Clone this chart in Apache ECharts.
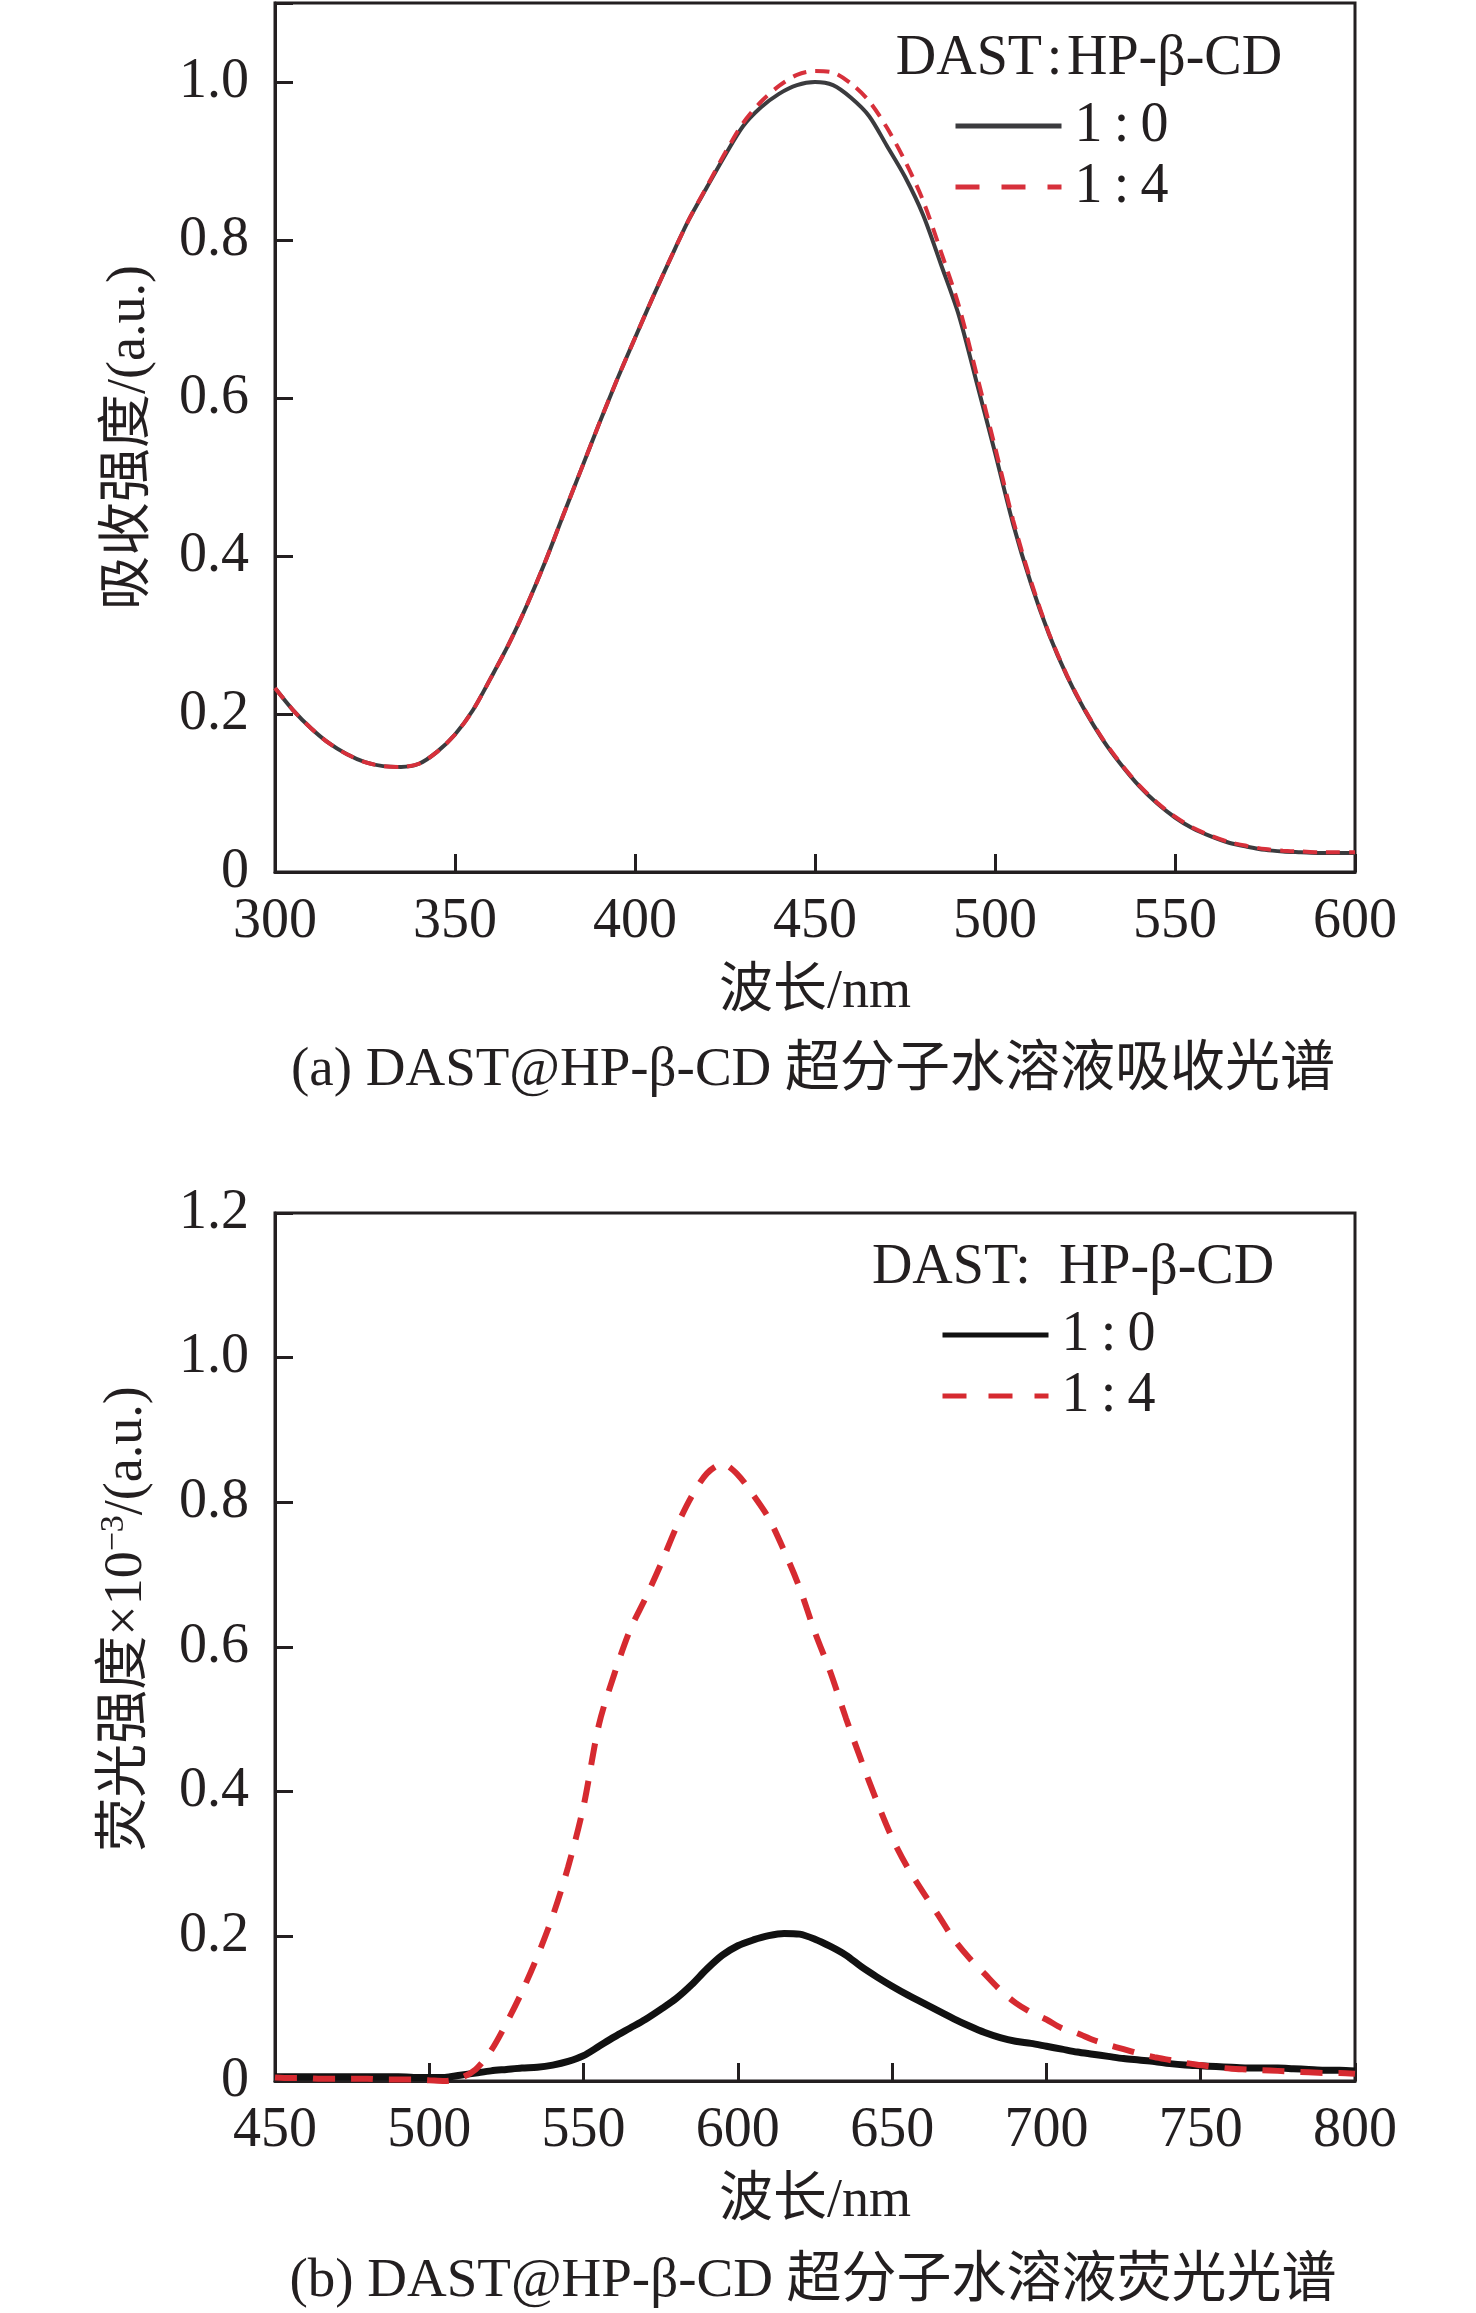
<!DOCTYPE html>
<html><head><meta charset="utf-8">
<script src="https://cdn.jsdelivr.net/npm/echarts@6/dist/echarts.min.js"></script>
<style>
html,body{margin:0;padding:0;background:#fff;}
#c1{position:absolute;left:0;top:0;width:1476px;height:1150px;}
#c2{position:absolute;left:0;top:1150px;width:1476px;height:1163px;}
</style>
</head><body>
<div id="c1"></div><div id="c2"></div>
<script>
// ---------- data: (a) absorption ----------
const absX = [300,305,310,315,320,325,330,335,340,345,350,355,360,365,370,375,380,385,390,395,400,405,410,415,420,425,430,435,440,445,450,455,460,465,470,475,480,485,490,495,500,505,510,515,520,525,530,535,540,545,550,555,560,565,570,575,580,585,590,595,600];
const abs10 = [0.233,0.205,0.182,0.163,0.149,0.139,0.134,0.133,0.137,0.152,0.174,0.205,0.246,0.289,0.338,0.392,0.451,0.509,0.567,0.623,0.676,0.728,0.778,0.826,0.867,0.907,0.944,0.968,0.985,0.996,1.000,0.996,0.980,0.957,0.919,0.880,0.832,0.769,0.704,0.618,0.531,0.441,0.365,0.301,0.248,0.204,0.167,0.136,0.109,0.087,0.069,0.055,0.045,0.037,0.032,0.028,0.026,0.025,0.024,0.024,0.024];
const abs14 = [0.233,0.205,0.182,0.163,0.149,0.139,0.134,0.133,0.137,0.152,0.174,0.205,0.246,0.289,0.338,0.392,0.451,0.509,0.567,0.623,0.676,0.728,0.778,0.826,0.868,0.910,0.948,0.975,0.995,1.009,1.014,1.012,0.998,0.976,0.942,0.900,0.850,0.785,0.716,0.628,0.538,0.446,0.368,0.302,0.249,0.205,0.168,0.137,0.110,0.088,0.070,0.056,0.046,0.038,0.033,0.029,0.027,0.026,0.025,0.025,0.025];
const absYTicks = [0,0.2,0.4,0.6,0.8,1.0];

// ---------- data: (b) fluorescence ----------
const flX = [450,455,460,465,470,475,480,485,490,495,500,505,510,515,520,525,530,535,540,545,550,555,560,565,570,575,580,585,590,595,600,605,610,615,620,625,630,635,640,645,650,655,660,665,670,675,680,685,690,695,700,705,710,715,720,725,730,735,740,745,750,755,760,765,770,775,780,785,790,795,800];
const fl10 = [0.006,0.006,0.006,0.006,0.006,0.006,0.006,0.006,0.006,0.005,0.005,0.005,0.008,0.011,0.014,0.016,0.018,0.019,0.022,0.027,0.035,0.048,0.061,0.073,0.085,0.099,0.114,0.133,0.155,0.174,0.187,0.195,0.201,0.204,0.203,0.196,0.186,0.174,0.158,0.144,0.131,0.119,0.108,0.097,0.086,0.076,0.067,0.060,0.055,0.052,0.048,0.044,0.040,0.037,0.034,0.031,0.029,0.027,0.024,0.022,0.021,0.020,0.019,0.018,0.018,0.018,0.017,0.016,0.015,0.015,0.014];
const fl14 = [0.005,0.004,0.004,0.003,0.003,0.003,0.003,0.002,0.002,0.002,0.001,0.000,0.004,0.016,0.042,0.080,0.123,0.172,0.228,0.296,0.380,0.493,0.563,0.623,0.667,0.714,0.765,0.808,0.840,0.853,0.838,0.810,0.778,0.733,0.682,0.620,0.565,0.502,0.443,0.387,0.336,0.295,0.261,0.229,0.196,0.170,0.148,0.126,0.108,0.095,0.085,0.073,0.066,0.057,0.050,0.044,0.038,0.033,0.029,0.025,0.022,0.019,0.017,0.016,0.015,0.014,0.013,0.012,0.011,0.011,0.010];
const flYTicks = [0,0.2,0.4,0.6,0.8,1.0,1.2];

const names = ['1\u2009:\u20090','1\u2009:\u20094'];
const FONT = '"Liberation Serif","Times New Roman","Noto Sans CJK SC",serif';
const INK = '#231f20';

function zip(xs, ys){ return xs.map((x,i)=>[x,ys[i]]); }
function yFmt(ticks){ return v => { const hit = ticks.find(t=>Math.abs(t-v)<1e-6); return hit===undefined ? '' : (hit===0?'0':hit.toFixed(1)); }; }

function axisBase(){
  return {
    type:'value',
    axisLine:{show:true,onZero:false,lineStyle:{color:INK,width:3}},
    axisTick:{show:true,inside:true,length:18,lineStyle:{color:INK,width:3}},
    axisLabel:{fontFamily:FONT,fontSize:56,color:INK},
    splitLine:{show:false}
  };
}

function build(cfg){
  const x = axisBase();
  Object.assign(x,{min:cfg.xMin,max:cfg.xMax,interval:50,name:'波长/nm',nameLocation:'middle',nameGap:94,
    nameTextStyle:{fontFamily:FONT,fontSize:54,color:INK}});
  x.axisLabel.margin = 22;
  const y = axisBase();
  Object.assign(y,{min:0,max:cfg.yMax,interval:0.2,name:cfg.yName,nameLocation:'middle',nameGap:118,
    nameTextStyle:cfg.yNameStyle});
  y.axisLabel.margin = 26;
  y.axisLabel.formatter = yFmt(cfg.yTicks);
  return {
    animation:false,
    backgroundColor:'#fff',
    grid:{left:275,top:cfg.gridTop,width:1080,height:cfg.gridH,show:true,borderColor:INK,borderWidth:3,backgroundColor:'transparent'},
    xAxis:x, yAxis:y,
    legend:{orient:'vertical',left:cfg.legLeft,top:cfg.legTop,itemWidth:106,itemHeight:14,itemGap:5,
      itemStyle:{opacity:0},
      textStyle:{fontFamily:FONT,fontSize:56,color:INK,lineHeight:56,padding:[0,0,0,8]},
      data:[
        {name:names[0],itemStyle:{opacity:0},lineStyle:{width:5,color:cfg.c0,type:'solid'}},
        {name:names[1],itemStyle:{opacity:0},lineStyle:{width:5,color:cfg.c1,type:[24,22]}}
      ]},
    series:[
      {name:names[0],type:'line',data:zip(cfg.xs,cfg.y0),symbol:'none',showSymbol:false,smooth:0.3,
        lineStyle:{color:cfg.c0,width:cfg.w0},itemStyle:{color:cfg.c0},z:2},
      {name:names[1],type:'line',data:zip(cfg.xs,cfg.y1),symbol:'none',showSymbol:false,smooth:0.3,
        lineStyle:{color:cfg.c1,width:cfg.w1,type:cfg.dash},itemStyle:{color:cfg.c1},z:3}
    ],
    graphic:[
      {type:'text',x:cfg.titleX,y:cfg.titleY,style:{text:cfg.legTitle,fontFamily:FONT,fontSize:56,fill:INK,align:'center',verticalAlign:'middle'}},
      {type:'text',x:813,y:cfg.capY,style:{text:cfg.caption,fontFamily:FONT,fontSize:55,fill:INK,align:'center',verticalAlign:'middle'}}
    ]
  };
}

const c1 = echarts.init(document.getElementById('c1'));
c1.setOption(build({
  xMin:300,xMax:600,yMax:1.1,yTicks:absYTicks,gridTop:3,gridH:869,
  yName:'吸收强度/(a.u.)',yNameStyle:{fontFamily:FONT,fontSize:54,color:INK},
  xs:absX,y0:abs10,y1:abs14,c0:'#3b3b3e',c1:'#d7303b',w0:4,w1:4,dash:[14,9],
  legLeft:948,legTop:93,titleX:1089,titleY:59,legTitle:'DAST\u200a:\u200aHP-β-CD',
  capY:1071,caption:'(a) DAST@HP-β-CD 超分子水溶液吸收光谱'
}));

const c2 = echarts.init(document.getElementById('c2'));
c2.setOption(build({
  xMin:450,xMax:800,yMax:1.2,yTicks:flYTicks,gridTop:63,gridH:868,
  yName:'{a|荧光强度×10}{s|−3}{a|/(a.u.)}',
  yNameStyle:{padding:[0,0,0,56],rich:{a:{fontFamily:FONT,fontSize:54,color:INK,lineHeight:60},s:{fontFamily:FONT,fontSize:34,color:INK,verticalAlign:'top',lineHeight:60}}},
  xs:flX,y0:fl10,y1:fl14,c0:'#111111',c1:'#d62a30',w0:7,w1:6,dash:[22,16],
  legLeft:935,legTop:152,titleX:1073,titleY:118,legTitle:'DAST:\u2002HP-β-CD',
  capY:1132,caption:'(b) DAST@HP-β-CD 超分子水溶液荧光光谱'
}));
</script>
</body></html>
